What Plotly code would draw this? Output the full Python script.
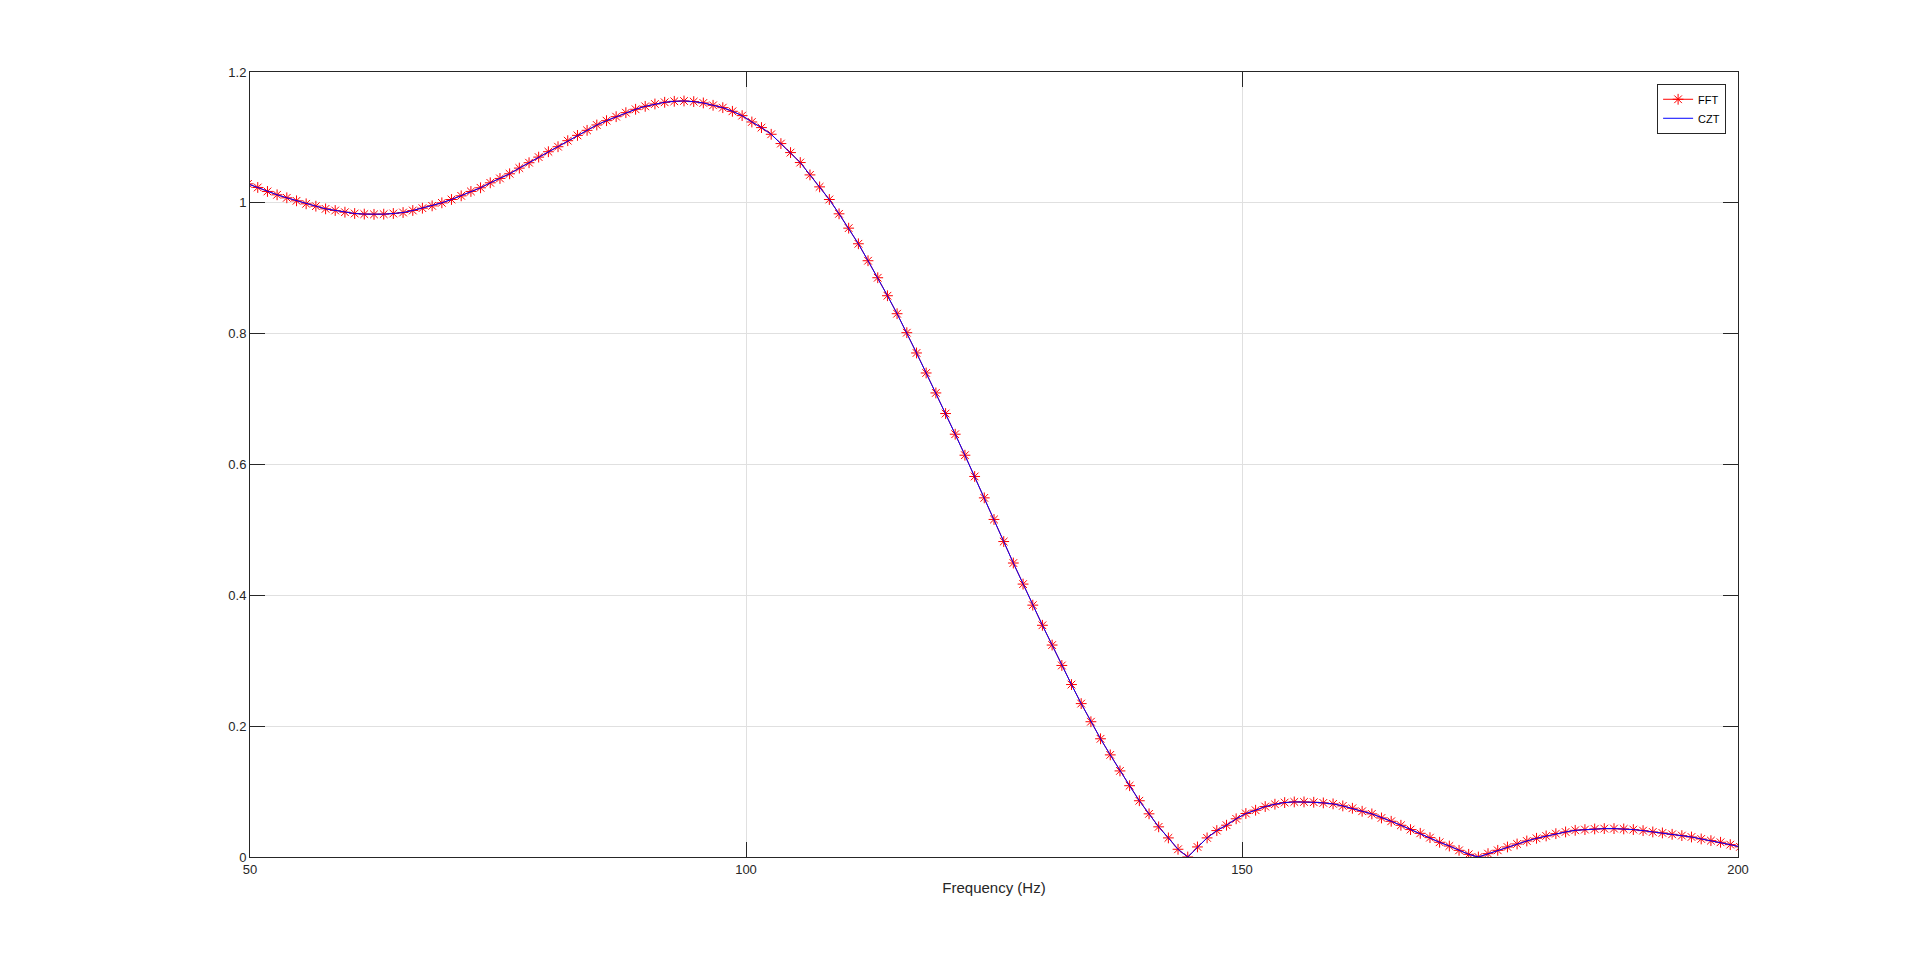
"""FFT 与 CZT 幅度谱对比 (50-200 Hz)"""

import plotly.graph_objects as go

# 频率点 (Hz), FFT 频点间隔约 0.977 Hz; 两端各多一个点, 落在坐标范围外
freq = [
    49.80, 50.78, 51.76, 52.73, 53.71, 54.69, 55.66, 56.64, 57.62, 58.59,
    59.57, 60.55, 61.52, 62.50, 63.48, 64.45, 65.43, 66.41, 67.38, 68.36,
    69.34, 70.31, 71.29, 72.27, 73.24, 74.22, 75.20, 76.17, 77.15, 78.13,
    79.10, 80.08, 81.05, 82.03, 83.01, 83.98, 84.96, 85.94, 86.91, 87.89,
    88.87, 89.84, 90.82, 91.80, 92.77, 93.75, 94.73, 95.70, 96.68, 97.66,
    98.63, 99.61, 100.59, 101.56, 102.54, 103.52, 104.49, 105.47, 106.45, 107.42,
    108.40, 109.38, 110.35, 111.33, 112.30, 113.28, 114.26, 115.23, 116.21, 117.19,
    118.16, 119.14, 120.12, 121.09, 122.07, 123.05, 124.02, 125.00, 125.98, 126.95,
    127.93, 128.91, 129.88, 130.86, 131.84, 132.81, 133.79, 134.77, 135.74, 136.72,
    137.70, 138.67, 139.65, 140.63, 141.60, 142.58, 143.55, 144.53, 145.51, 146.48,
    147.46, 148.44, 149.41, 150.39, 151.37, 152.34, 153.32, 154.30, 155.27, 156.25,
    157.23, 158.20, 159.18, 160.16, 161.13, 162.11, 163.09, 164.06, 165.04, 166.02,
    166.99, 167.97, 168.95, 169.92, 170.90, 171.88, 172.85, 173.83, 174.80, 175.78,
    176.76, 177.73, 178.71, 179.69, 180.66, 181.64, 182.62, 183.59, 184.57, 185.55,
    186.52, 187.50, 188.48, 189.45, 190.43, 191.41, 192.38, 193.36, 194.34, 195.31,
    196.29, 197.27, 198.24, 199.22, 200.20,
]

# 幅度
fft_mag = [
    1.029, 1.0235, 1.0174, 1.0123, 1.0077, 1.0031, 0.9985, 0.9949, 0.9908, 0.9883,
    0.9857, 0.9837, 0.9828, 0.9824, 0.9827, 0.9837, 0.9852, 0.9883, 0.9918, 0.9954,
    1.0, 1.0051, 1.0107, 1.0174, 1.023, 1.0306, 1.0373, 1.0444, 1.0531, 1.0613,
    1.0699, 1.0781, 1.0858, 1.095, 1.1031, 1.1108, 1.119, 1.1256, 1.1317, 1.1378,
    1.143, 1.1475, 1.1511, 1.1537, 1.1552, 1.1557, 1.1547, 1.1527, 1.1491, 1.1455,
    1.1399, 1.1333, 1.1236, 1.115, 1.1048, 1.0906, 1.0768, 1.0616, 1.0427, 1.0244,
    1.0051, 0.9832, 0.9613, 0.9374, 0.9115, 0.8855, 0.858, 0.8305, 0.8015, 0.7705,
    0.7399, 0.7094, 0.6779, 0.6463, 0.6142, 0.5817, 0.549, 0.516, 0.4822, 0.4494,
    0.4172, 0.385, 0.3542, 0.324, 0.2928, 0.2636, 0.2345, 0.2068, 0.1807, 0.1561,
    0.1316, 0.109, 0.086, 0.066, 0.0461, 0.0292, 0.0118, 0.0, 0.0154, 0.0292,
    0.0404, 0.0486, 0.0584, 0.0665, 0.0715, 0.0771, 0.0807, 0.0832, 0.0842, 0.0842,
    0.0837, 0.0827, 0.0812, 0.0781, 0.0745, 0.0699, 0.0659, 0.0597, 0.0546, 0.0485,
    0.0419, 0.0362, 0.0296, 0.0225, 0.0168, 0.0102, 0.0041, 0.0, 0.0051, 0.0102,
    0.0153, 0.0199, 0.0245, 0.0286, 0.0322, 0.0357, 0.0383, 0.0408, 0.0419, 0.0429,
    0.0434, 0.0434, 0.0429, 0.0419, 0.0403, 0.0383, 0.0368, 0.0347, 0.0327, 0.0306,
    0.0276, 0.025, 0.0225, 0.0189, 0.0155,
]

# CZT 与 FFT 曲线重合
czt_mag = fft_mag

x_ticks = [50, 100, 150, 200]
y_ticks = [0, 0.2, 0.4, 0.6, 0.8, 1.0, 1.2]
y_ticktext = ['0', '0.2', '0.4', '0.6', '0.8', '1', '1.2']

FONT = 'Arial, Liberation Sans, Helvetica, sans-serif'
AX_COLOR = '#262626'
GRID_COLOR = '#e0e0e0'

fig = go.Figure()

fig.add_trace(go.Scatter(
    x=freq, y=fft_mag, mode='lines+markers', name='FFT',
    line=dict(color='#ff0000', width=1),
    marker=dict(symbol='asterisk-open', size=9, color='#ff0000',
                line=dict(color='#ff0000', width=1)),
))
fig.add_trace(go.Scatter(
    x=freq, y=czt_mag, mode='lines', name='CZT',
    line=dict(color='#0000ff', width=1),
))

axis_common = dict(
    showline=True, linecolor=AX_COLOR, linewidth=1, mirror='ticks',
    ticks='inside', ticklen=15, tickcolor=AX_COLOR, tickwidth=1,
    showgrid=True, gridcolor=GRID_COLOR, gridwidth=1, zeroline=False,
    tickfont=dict(family=FONT, size=13, color=AX_COLOR),
)

fig.update_xaxes(
    range=[50, 200], tickvals=x_ticks,
    title=dict(text='Frequency (Hz)', standoff=6,
               font=dict(family=FONT, size=15, color=AX_COLOR)),
    **axis_common,
)
fig.update_yaxes(
    range=[0, 1.2], tickvals=y_ticks, ticktext=y_ticktext,
    **axis_common,
)

# 页面 body 自带 8px 边距, 边距相应减去
fig.update_layout(
    width=1920, height=962,
    margin=dict(l=242, r=190, t=64, b=113),
    paper_bgcolor='white', plot_bgcolor='white',
    showlegend=True,
    legend=dict(
        x=0.992, y=0.985, xanchor='right', yanchor='top',
        bgcolor='white', bordercolor=AX_COLOR, borderwidth=1,
        font=dict(family=FONT, size=11, color='#000000'),
        itemwidth=30, tracegroupgap=0,
    ),
    font=dict(family=FONT, color=AX_COLOR),
)

fig.write_html('out.html')
